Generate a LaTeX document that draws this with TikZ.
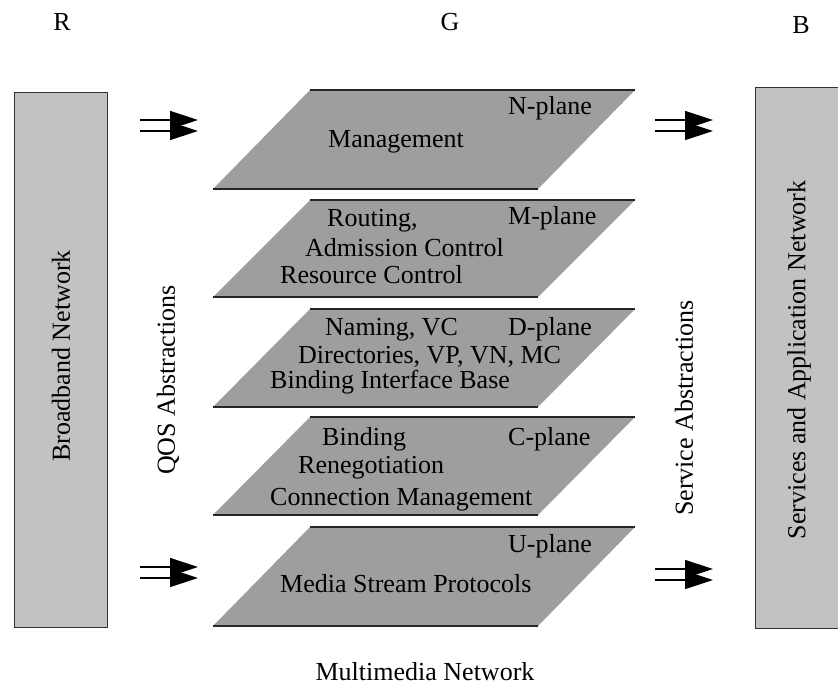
\documentclass[tikz,border=0pt]{standalone}
\usepackage{fontspec}
\setmainfont{Liberation Serif}
\usetikzlibrary{arrows.meta}

\tikzset{
  planefill/.style={fill=black!38},
  planeedge/.style={draw=black!85, line width=1.1pt},
  sidebox/.style={fill=black!24, draw=black!80, line width=1pt},
  txt/.style={inner sep=0pt, anchor=base west, font=\fontsize{26}{30}\selectfont},
  vtxt/.style={inner sep=0pt, rotate=90, font=\fontsize{26}{30}\selectfont},
  flow/.style={line width=1.4pt, -{Triangle[length=28pt,width=18pt]}},
}

% a slanted plane: top edge at y=#1, bottom edge at y=#2
\newcommand\drawplane[3]{%
  \coordinate (#3tl) at (310,#1);
  \coordinate (#3tr) at (635,#1);
  \coordinate (#3br) at (538,#2);
  \coordinate (#3bl) at (213,#2);
  \fill[planefill] (#3tl) -- (#3tr) -- (#3br) -- (#3bl) -- cycle;
  \draw[planeedge] (#3tl) -- (#3tr);
  \draw[planeedge] (#3bl) -- (#3br);
}

\begin{document}
\begin{tikzpicture}[x=1pt, y=-1pt]
\useasboundingbox (0,0) rectangle (838,687);

% side networks
\draw[sidebox] (14,93) rectangle (107,627);
\node[vtxt] (bbn) at (61,356) {Broadband Network};
\draw[sidebox] (755,88) rectangle (850,628);
\node[vtxt] (san) at (799,360) {Services and Application Network};

% top letters and bottom caption
\node[txt, anchor=base] (r) at (62,31) {R};
\node[txt, anchor=base] (g) at (450,31) {G};
\node[txt, anchor=base] (b) at (801,34) {B};
\node[txt, anchor=base] (mmn) at (425,680) {Multimedia Network};

% the five planes
\drawplane{90}{189}{np}
\drawplane{200}{297}{mp}
\drawplane{309}{407}{dp}
\drawplane{417}{515}{cp}
\drawplane{527}{626}{up}

% N-plane
\node[txt] (nlab) at (508,115) {N-plane};
\node[txt] (nman) at (328,148) {Management};
% M-plane
\node[txt] (mlab) at (508,225) {M-plane};
\node[txt] (mrout) at (327,226) {Routing,};
\node[txt] (madm) at (305,256) {Admission Control};
\node[txt] (mres) at (280,283) {Resource Control};
% D-plane
\node[txt] (dlab) at (508,335) {D-plane};
\node[txt] (dnam) at (325,335) {Naming, VC};
\node[txt] (ddir) at (298,363) {Directories, VP, VN, MC};
\node[txt] (dbind) at (270,388) {Binding Interface Base};
% C-plane
\node[txt] (clab) at (508,445) {C-plane};
\node[txt] (cbind) at (322,445) {Binding};
\node[txt] (creneg) at (298,473) {Renegotiation};
\node[txt] (cconn) at (270,505) {Connection Management};
% U-plane
\node[txt] (ulab) at (508,552) {U-plane};
\node[txt] (umed) at (280,592) {Media Stream Protocols};

% abstraction labels
\node[vtxt] (qos) at (168,380) {QOS Abstractions};
\node[vtxt] (svc) at (684,408) {Service Abstractions};

% double arrows into and out of the planes
\coordinate (lt1a) at (140,120); \coordinate (lt1b) at (198,120);
\coordinate (lt2a) at (140,131); \coordinate (lt2b) at (198,131);
\coordinate (lb1a) at (140,567); \coordinate (lb1b) at (198,567);
\coordinate (lb2a) at (140,578); \coordinate (lb2b) at (198,578);
\coordinate (rt1a) at (655,120); \coordinate (rt1b) at (713,120);
\coordinate (rt2a) at (655,131); \coordinate (rt2b) at (713,131);
\coordinate (rb1a) at (655,569); \coordinate (rb1b) at (713,569);
\coordinate (rb2a) at (655,580); \coordinate (rb2b) at (713,580);
\foreach \p in {lt1,lt2,lb1,lb2,rt1,rt2,rb1,rb2}
  \draw[flow] (\p a) -- (\p b);
\end{tikzpicture}
\end{document}
